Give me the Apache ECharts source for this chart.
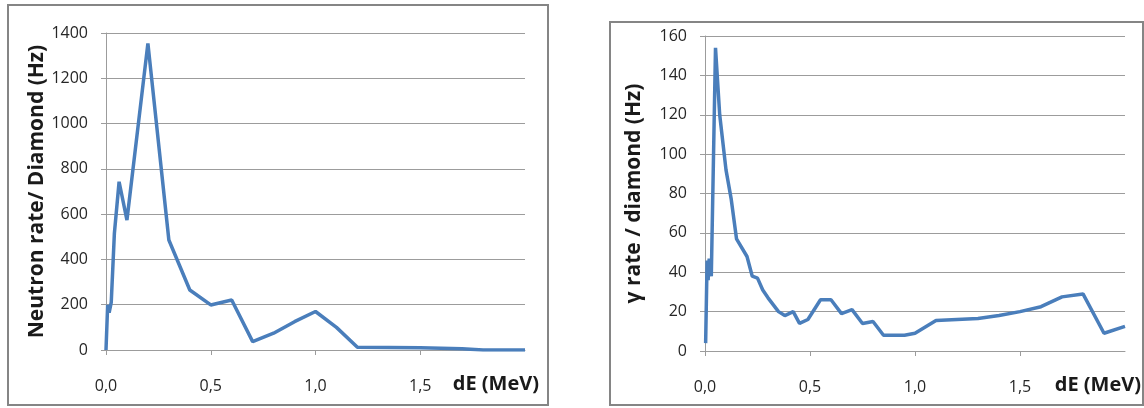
<!DOCTYPE html>
<html>
<head>
<meta charset="utf-8">
<script src="https://cdn.jsdelivr.net/npm/echarts@6/dist/echarts.min.js"></script>
<style>
html,body{margin:0;padding:0;background:#fff;}
#c{width:1144px;height:408px;}
</style>
</head>
<body>
<div id="c"></div>
<script>
// Neutron chart (left)
const neutronE = [0, 0.008, 0.015, 0.025, 0.04, 0.0625, 0.1, 0.2, 0.3, 0.4, 0.5, 0.6, 0.7, 0.8, 0.9, 1.0, 1.1, 1.2, 1.5, 1.7, 1.8, 2.0];
const neutronRate = [0, 200, 165, 210, 515, 743, 574, 1354, 486, 265, 199, 221, 37, 74, 125, 170, 100, 12, 10, 5, 0, 0];
// Gamma chart (right)
const gammaE = [0.003, 0.01, 0.015, 0.02, 0.03, 0.05, 0.07, 0.1, 0.125, 0.15, 0.2, 0.225, 0.25, 0.275, 0.3, 0.35, 0.38, 0.42, 0.45, 0.49, 0.55, 0.6, 0.65, 0.7, 0.75, 0.8, 0.85, 0.95, 1.0, 1.1, 1.3, 1.4, 1.5, 1.6, 1.7, 1.8, 1.9, 2.0];
const gammaRate = [4, 46, 36, 47, 38, 154, 120, 92, 77, 57, 48, 38, 37, 31, 27, 20, 18, 20, 14, 16, 26, 26, 19, 21, 14, 15, 8, 8, 9, 15.5, 16.5, 18, 20, 22.5, 27.5, 29, 9, 12.5];

const yNames = ['Neutron rate/ Diamond (Hz)', 'γ rate / diamond (Hz)'];
const xName = 'dE (MeV)';
const yMax = [1400, 160];
const yStep = [200, 20];

const FONT = 'Open Sans';
const gridCol = '#9c9c9c';
const lineCol = '#4a7ebb';

function pair(xs, ys){ return xs.map((x,i)=>[x, ys[i]]); }

function xAxisCfg(idx, gap){
  return {
    type:'value', gridIndex: idx, min:0, max:2, interval:0.5,
    name: xName, nameLocation:'end', nameGap: gap,
    nameTextStyle:{fontFamily:FONT, fontWeight:'bold', fontSize:20, color:'#1a1a1a', align:'right', verticalAlign:'top', padding:[24,0,0,0]},
    axisLine:{show:true, lineStyle:{color:gridCol, width:1}},
    axisTick:{show:true, length:5, lineStyle:{color:gridCol}},
    splitLine:{show:false},
    axisLabel:{fontFamily:FONT, fontSize:16, color:'#262626', margin:28, showMaxLabel:false,
      formatter: v => v.toFixed(1).replace('.', ',')}
  };
}
function yAxisCfg(idx, gap){
  return {
    type:'value', gridIndex: idx, min:0, max:yMax[idx], interval:yStep[idx],
    name: yNames[idx], nameLocation:'middle', nameRotate:90, nameGap: gap,
    nameTextStyle:{fontFamily:FONT, fontWeight:'bold', fontSize:21, color:'#1a1a1a'},
    axisLine:{show:true, lineStyle:{color:gridCol, width:1}},
    axisTick:{show:true, length:5, lineStyle:{color:gridCol}},
    splitLine:{show:true, lineStyle:{color:gridCol, width:1}},
    axisLabel:{fontFamily:FONT, fontSize:16, color:'#262626', margin:18, formatter: v => String(v)}
  };
}

const chart = echarts.init(document.getElementById('c'), null, {renderer:'canvas'});
chart.setOption({
  animation:false,
  backgroundColor:'#fff',
  graphic:[
    {type:'rect', shape:{x:8, y:5, width:540, height:400}, style:{fill:'none', stroke:'#858585', lineWidth:2}, z:-1},
    {type:'rect', shape:{x:610, y:22, width:533, height:383}, style:{fill:'none', stroke:'#858585', lineWidth:2}, z:-1}
  ],
  grid:[
    {left:106, top:33, width:419, height:317},
    {left:705, top:36, width:421, height:315}
  ],
  xAxis:[xAxisCfg(0, 14), xAxisCfg(1, 16)],
  yAxis:[yAxisCfg(0, 57), yAxisCfg(1, 60)],
  series:[
    {type:'line', xAxisIndex:0, yAxisIndex:0, data:pair(neutronE, neutronRate), showSymbol:false, lineStyle:{color:lineCol, width:3.5}},
    {type:'line', xAxisIndex:1, yAxisIndex:1, data:pair(gammaE, gammaRate), showSymbol:false, lineStyle:{color:lineCol, width:3.5}}
  ]
});
</script>
</body>
</html>
